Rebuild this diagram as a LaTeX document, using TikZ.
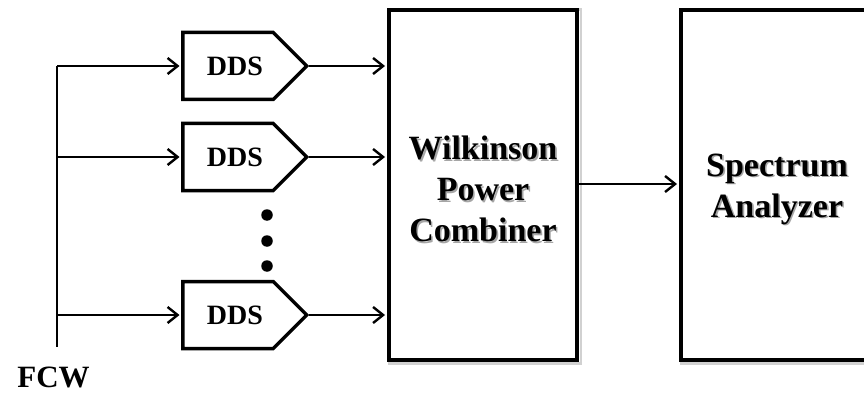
\documentclass[tikz,border=0pt]{standalone}
\usepackage{fontspec}
\setmainfont{Liberation Serif}
\usetikzlibrary{arrows.meta,shapes.symbols,backgrounds}
\begin{document}
\begin{tikzpicture}[x=1pt,y=-1pt,
  wire/.style={line width=1.3pt},
  arr/.style={wire,-{Straight Barb[length=10pt,width=16pt,line width=2.4pt]}},
  ddsbox/.style={signal, signal to=east, signal pointer angle=90, draw,
    line width=3.5pt, minimum width=124pt, minimum height=67pt, inner sep=0pt,
    font=\fontsize{28}{30}\selectfont\bfseries},
  bigbox/.style={draw, line width=4pt, minimum width=188pt, minimum height=350pt},
  boxshade/.style={draw=black!18, line width=2.5pt},
  bigtext/.style={align=center, font=\fontsize{34}{41}\selectfont\bfseries},
  shadetext/.style={bigtext, text=black!35},
  dot/.style={circle, fill, inner sep=0pt, minimum size=11.5pt},
  lbl/.style={font=\fontsize{31}{34}\selectfont\bfseries}]
\useasboundingbox (0,0) rectangle (864,393);

% combiner and analyzer blocks
\node[bigbox] (comb) at (483,184.7) {};
\node[bigbox] (spec) at (775,184.7) {};
\node[bigtext] (combtxt) at (483,189) {Wilkinson\\Power\\Combiner};
\node[bigtext] (spectxt) at (777,189) {Spectrum\\Analyzer};

% soft shadows behind outlines and titles
\begin{scope}[on background layer]
  \draw[boxshade] ([shift={(2,2)}]comb.north west) rectangle ([shift={(2,2)}]comb.south east);
  \draw[boxshade] ([shift={(2,2)}]spec.north west) rectangle ([shift={(2,2)}]spec.south east);
  \node[shadetext] at ([shift={(1.6,1.6)}]combtxt.center) {Wilkinson\\Power\\Combiner};
  \node[shadetext] at ([shift={(1.6,1.6)}]spectxt.center) {Spectrum\\Analyzer};
\end{scope}

% DDS channels (label nudged right inside the body)
\node[ddsbox] (dds1) at (228,66) {\hspace*{14pt}DDS};
\node[ddsbox] (dds2) at (228,157) {\hspace*{14pt}DDS};
\node[ddsbox] (dds3) at (228,315) {\hspace*{14pt}DDS};

\node[dot] (d1) at (267,215) {};
\node[dot] (d2) at (267,241) {};
\node[dot] (d3) at (267,266) {};

% FCW bus
\coordinate (b1) at (57,66);
\coordinate (b2) at (57,157);
\coordinate (b3) at (57,315);
\coordinate (bend) at (57,347);
\node[lbl] (fcw) at (53.5,377) {FCW};

\draw[wire] (b1) -- (bend);
\foreach \i in {1,2,3} {
  \draw[arr, shorten >=1.5pt] (b\i) -- (dds\i.west);
  \draw[arr, shorten >=2pt] (dds\i.east) -- (dds\i.east -| comb.west);
}
\draw[arr, shorten >=2pt] (comb.east |- 0,184) -- (spec.west |- 0,184);
\end{tikzpicture}
\end{document}
